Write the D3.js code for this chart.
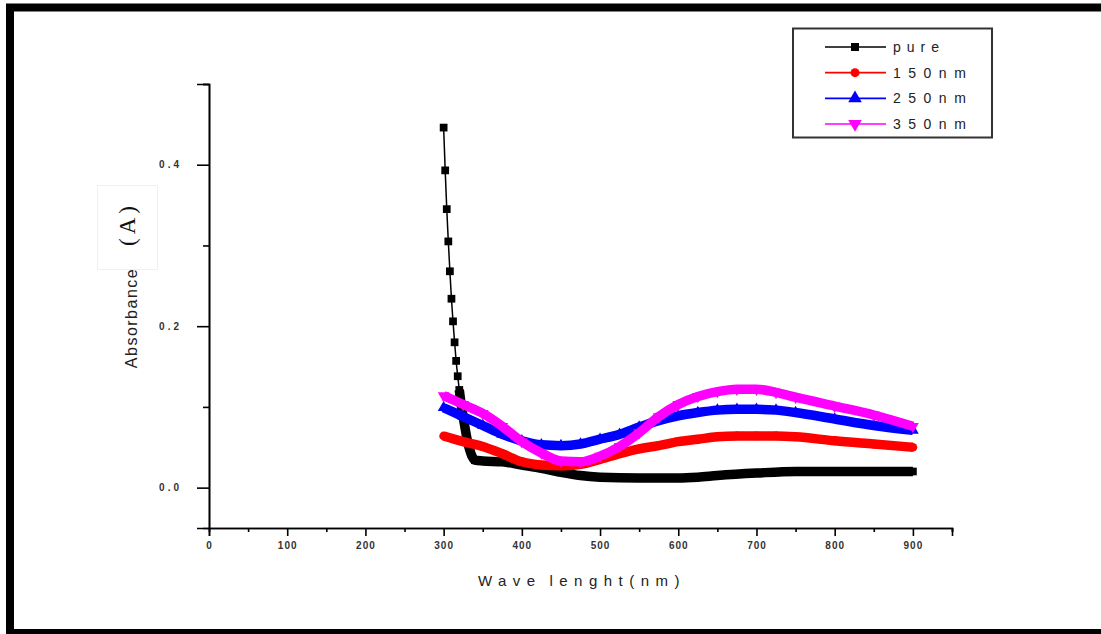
<!DOCTYPE html>
<html>
<head>
<meta charset="utf-8">
<script src="https://cdn.jsdelivr.net/npm/d3@7"></script>
<style>
  body { margin: 0; background: #fff; }
  svg { display: block; font-family: Arial, "Liberation Sans", sans-serif; }
</style>
</head>
<body>
<div id="chart"></div>
<script>
// wavelengths (nm) and absorbance
const pureWave = [300, 302, 304, 306, 308, 310, 312, 314, 316, 318, 320, 322, 326, 330, 335, 340,
  350, 375, 400, 425, 450, 475, 500, 550, 600, 625, 650, 700, 750, 800, 850, 900];
const pureAbs = [0.446, 0.393, 0.345, 0.305, 0.268, 0.234, 0.206, 0.180, 0.157, 0.138, 0.121, 0.106, 0.082, 0.060, 0.042, 0.034,
  0.033, 0.032, 0.028, 0.024, 0.019, 0.015, 0.013, 0.012, 0.012, 0.013, 0.015, 0.018, 0.020, 0.020, 0.020, 0.020];

const filmWave = [300, 325, 350, 375, 400, 425, 450, 475, 500, 525, 550, 575, 600, 625, 650, 675, 700, 725, 750, 800, 850, 900];
const abs150 = [0.064, 0.057, 0.051, 0.042, 0.032, 0.028, 0.027, 0.029, 0.035, 0.042, 0.048, 0.052, 0.057, 0.060, 0.063, 0.064, 0.064, 0.064, 0.063, 0.058, 0.054, 0.050];
const abs250 = [0.099, 0.088, 0.077, 0.066, 0.058, 0.053, 0.052, 0.054, 0.060, 0.066, 0.075, 0.083, 0.089, 0.093, 0.096, 0.097, 0.097, 0.096, 0.093, 0.085, 0.077, 0.071];
const abs350 = [0.114, 0.103, 0.092, 0.076, 0.057, 0.043, 0.033, 0.032, 0.039, 0.051, 0.068, 0.088, 0.103, 0.113, 0.119, 0.122, 0.122, 0.118, 0.112, 0.101, 0.090, 0.076];

const seriesNames = ["pure", "150nm", "250nm", "350nm"];
const seriesColors = ["#000000", "#ff0000", "#0000ff", "#ff00ff"];

const xMajorTicks = [0, 100, 200, 300, 400, 500, 600, 700, 800, 900];
const xMinorTicks = [50, 150, 250, 350, 450, 550, 650, 750, 850, 950];
const yMajorTicks = [0, 0.2, 0.4];
const yMinorTicks = [0.1, 0.3, 0.5];

const width = 1101, height = 634;
const margin = { top: 84, right: 149, bottom: 106, left: 209 };

const series = [
  { name: seriesNames[0], color: seriesColors[0], symbol: d3.symbolSquare, size: 60, rot: 0, band: 320,
    points: pureWave.map((w, i) => ({ w, a: pureAbs[i] })) },
  { name: seriesNames[1], color: seriesColors[1], symbol: d3.symbolCircle, size: 60, rot: 0, band: 0,
    points: filmWave.map((w, i) => ({ w, a: abs150[i] })) },
  { name: seriesNames[2], color: seriesColors[2], symbol: d3.symbolTriangle, size: 60, rot: 0, band: 0,
    points: filmWave.map((w, i) => ({ w, a: abs250[i] })) },
  { name: seriesNames[3], color: seriesColors[3], symbol: d3.symbolTriangle, size: 60, rot: 180, band: 0,
    points: filmWave.map((w, i) => ({ w, a: abs350[i] })) }
];

const x = d3.scaleLinear().domain([0, 950]).range([margin.left, width - margin.right]);
const y = d3.scaleLinear().domain([-0.05, 0.5]).range([height - margin.bottom, margin.top]);

const svg = d3.select("#chart").append("svg")
  .attr("width", width)
  .attr("height", height);

// outer frame
svg.append("rect")
  .attr("x", 10).attr("y", 7.5)
  .attr("width", 1200).attr("height", 625.5)
  .attr("fill", "none").attr("stroke", "#000").attr("stroke-width", 8);

// faint box behind (A)
svg.append("rect")
  .attr("x", 97.5).attr("y", 185.5).attr("width", 60).attr("height", 84)
  .attr("fill", "none").attr("stroke", "#f0f0f0");

// axes
const xAxis = svg.append("g")
  .attr("transform", `translate(0,${y(-0.05)})`)
  .call(d3.axisBottom(x).tickValues(xMajorTicks).tickSize(8).tickPadding(6).tickFormat(d3.format("d")));
svg.append("g")
  .attr("transform", `translate(0,${y(-0.05)})`)
  .call(d3.axisBottom(x).tickValues(xMinorTicks).tickSize(4).tickFormat(""));

const yAxis = svg.append("g")
  .attr("transform", `translate(${x(0)},0)`)
  .call(d3.axisLeft(y).tickValues(yMajorTicks).tickSize(12).tickPadding(15).tickFormat(d3.format(".1f")));
svg.append("g")
  .attr("transform", `translate(${x(0)},0)`)
  .call(d3.axisLeft(y).tickValues(yMinorTicks).tickSize(6).tickFormat(""));

svg.selectAll(".domain").attr("stroke", "#000").attr("stroke-width", 1.6);
svg.selectAll(".tick line").attr("stroke", "#000").attr("stroke-width", 1.6);

xAxis.selectAll("text").attr("font-size", 10).attr("font-weight", "bold").attr("fill", "#333").attr("letter-spacing", "1px");
yAxis.selectAll("text").attr("font-size", 10).attr("font-weight", "bold").attr("fill", "#333").attr("letter-spacing", "3px");

// axis titles
svg.append("text")
  .attr("x", 582).attr("y", 586)
  .attr("text-anchor", "middle")
  .attr("font-size", 15).attr("fill", "#222")
  .attr("letter-spacing", "6.5px")
  .attr("word-spacing", "-3px")
  .text("Wave lenght(nm)");

svg.append("text")
  .attr("transform", "translate(137,318) rotate(-90)")
  .attr("text-anchor", "middle")
  .attr("font-size", 16).attr("fill", "#222")
  .attr("letter-spacing", "1.5px")
  .text("Absorbance");

svg.append("text")
  .attr("transform", "translate(135,224) rotate(-90)")
  .attr("text-anchor", "middle")
  .attr("font-family", "'Liberation Serif', 'DejaVu Serif', serif")
  .attr("font-size", 23).attr("fill", "#111")
  .attr("letter-spacing", "4px")
  .text("(A)");

// data
const band = d3.line()
  .x(d => x(d.w))
  .y(d => y(d.a))
  .curve(d3.curveMonotoneX);

const plot = svg.append("g");

series.forEach(s => {
  // thin connecting line through all points
  plot.append("path")
    .datum(s.points)
    .attr("d", band)
    .attr("fill", "none")
    .attr("stroke", s.color)
    .attr("stroke-width", 1.5);

  // dense measurement points drawn as a thick band
  plot.append("path")
    .datum(s.points.filter(d => d.w >= s.band))
    .attr("d", band)
    .attr("fill", "none")
    .attr("stroke", s.color)
    .attr("stroke-width", 9.5);

  plot.selectAll(null)
    .data(s.points)
    .join("path")
    .attr("transform", d => `translate(${x(d.w)},${y(d.a)}) rotate(${s.rot})`)
    .attr("d", d3.symbol().type(s.symbol).size(s.size))
    .attr("fill", s.color);
});

// legend
const legend = svg.append("g");
legend.append("rect")
  .attr("x", 793).attr("y", 28.5).attr("width", 199).attr("height", 109)
  .attr("fill", "#fff").attr("stroke", "#333").attr("stroke-width", 2);

const rowY = d3.scalePoint().domain(seriesNames).range([47, 124]);

series.forEach(s => {
  const g = legend.append("g").attr("transform", `translate(0,${rowY(s.name)})`);
  g.append("line")
    .attr("x1", 825).attr("x2", 886)
    .attr("stroke", s.color).attr("stroke-width", 1.6);
  g.append("path")
    .attr("transform", `translate(855,0) rotate(${s.rot})`)
    .attr("d", d3.symbol().type(s.symbol).size(s.symbol === d3.symbolTriangle ? 80 : 64))
    .attr("fill", s.color);
  g.append("text")
    .attr("x", 893).attr("y", 5)
    .attr("font-size", 14).attr("fill", "#222")
    .attr("letter-spacing", s.name === "pure" ? "6px" : "7.5px")
    .text(s.name);
});
</script>
</body>
</html>
